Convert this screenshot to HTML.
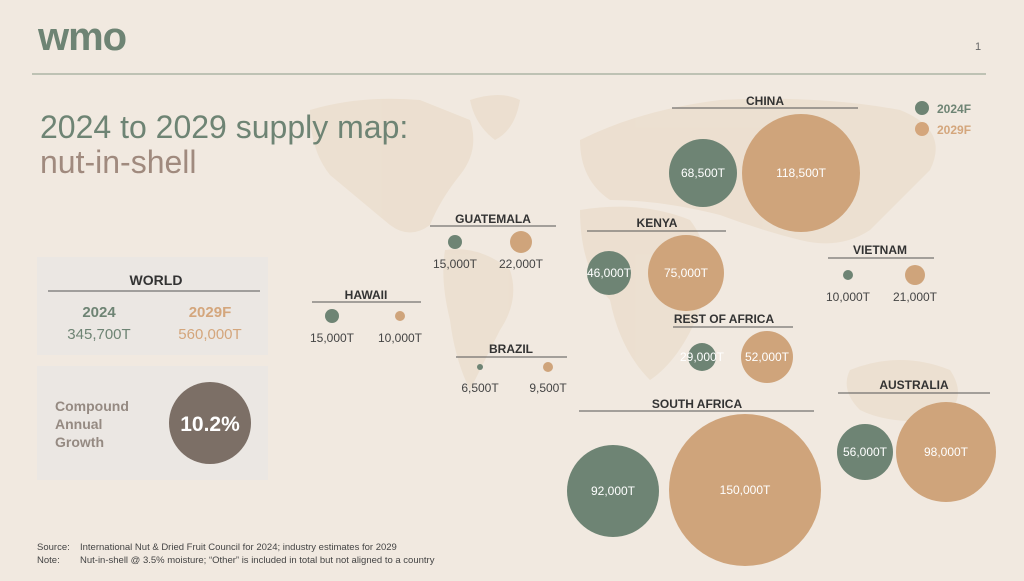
<!DOCTYPE html>
<html><head><meta charset="utf-8"><style>
body{margin:0;width:1024px;height:576px;overflow:hidden;background:#f1e9e0;font-family:"Liberation Sans",sans-serif}
</style></head><body>
<svg width="1024" height="576" xmlns="http://www.w3.org/2000/svg" font-family="Liberation Sans, sans-serif">
<rect width="1024" height="576" fill="#f1e9e0"/>
<g fill="#e9dac6" opacity="0.6">
<path d="M310 110 Q360 95 420 100 L470 120 Q480 150 460 175 Q440 200 430 225 Q410 240 390 225 Q360 200 330 175 Q310 150 310 110Z"/>
<path d="M470 100 Q500 90 520 100 Q515 130 495 140 Q475 125 470 100Z"/>
<path d="M445 250 Q480 245 510 270 Q520 300 500 330 Q480 370 470 390 Q455 360 450 320 Q440 280 445 250Z"/>
<path d="M580 140 Q640 110 720 100 Q820 95 900 110 Q950 130 930 170 Q900 200 870 230 Q840 250 800 240 Q760 230 720 215 Q660 200 610 200 Q580 180 580 140Z"/>
<path d="M580 210 Q640 200 690 220 Q720 260 700 310 Q680 360 650 380 Q620 350 610 300 Q580 270 580 210Z"/>
<path d="M850 370 Q900 350 950 370 Q970 400 940 420 Q890 425 860 410 Q840 390 850 370Z"/>
</g>
<text x="38" y="50" font-size="40" font-weight="bold" fill="#6e8474" letter-spacing="-1">wmo</text>
<text x="975" y="50" font-size="11" fill="#666">1</text>
<line x1="32" y1="74" x2="986" y2="74" stroke="#8a9a88" stroke-width="1"/>
<text x="40" y="138" font-size="32" fill="#6e8474">2024 to 2029 supply map:</text>
<text x="40" y="173" font-size="32" fill="#a08a7e">nut-in-shell</text>
<rect x="37" y="257" width="231" height="98" fill="#ebe7e3"/>
<text x="156" y="285" font-size="14" font-weight="bold" fill="#333" text-anchor="middle">WORLD</text>
<line x1="48" y1="291" x2="260" y2="291" stroke="#555" stroke-width="1"/>
<text x="99" y="317" font-size="15" font-weight="bold" fill="#6e8474" text-anchor="middle">2024</text>
<text x="99" y="339" font-size="15" fill="#6e8474" text-anchor="middle">345,700T</text>
<text x="210" y="317" font-size="15" font-weight="bold" fill="#d4a67c" text-anchor="middle">2029F</text>
<text x="210" y="339" font-size="15" fill="#d4a67c" text-anchor="middle">560,000T</text>
<rect x="37" y="366" width="231" height="114" fill="#ebe7e3"/>
<text x="55" y="411" font-size="14" font-weight="bold" fill="#958a82">Compound</text>
<text x="55" y="429" font-size="14" font-weight="bold" fill="#958a82">Annual</text>
<text x="55" y="447" font-size="14" font-weight="bold" fill="#958a82">Growth</text>
<circle cx="210" cy="423" r="41" fill="#7c6f66"/>
<text x="210" y="431" font-size="21" font-weight="bold" fill="#fff" text-anchor="middle">10.2%</text>
<circle cx="922" cy="108" r="7" fill="#6e8474"/><text x="937" y="113" font-size="12" font-weight="bold" fill="#6e8474">2024F</text>
<circle cx="922" cy="129" r="7" fill="#d4a67c"/><text x="937" y="134" font-size="12" font-weight="bold" fill="#d4a67c">2029F</text>
<g font-size="12" font-weight="bold" fill="#333" text-anchor="middle">
<text x="765" y="105">CHINA</text>
<text x="493" y="223">GUATEMALA</text>
<text x="657" y="227">KENYA</text>
<text x="880" y="254">VIETNAM</text>
<text x="366" y="299">HAWAII</text>
<text x="724" y="323">REST OF AFRICA</text>
<text x="511" y="353">BRAZIL</text>
<text x="697" y="408">SOUTH AFRICA</text>
<text x="914" y="389">AUSTRALIA</text>
</g>
<g stroke="#555" stroke-width="1">
<line x1="672" y1="108" x2="858" y2="108"/>
<line x1="430" y1="226" x2="556" y2="226"/>
<line x1="587" y1="231" x2="726" y2="231"/>
<line x1="828" y1="258" x2="934" y2="258"/>
<line x1="312" y1="302" x2="421" y2="302"/>
<line x1="673" y1="327" x2="793" y2="327"/>
<line x1="456" y1="357" x2="567" y2="357"/>
<line x1="579" y1="411" x2="814" y2="411"/>
<line x1="838" y1="393" x2="990" y2="393"/>
</g>
<g fill="#6e8474">
<circle cx="703" cy="173" r="34"/><circle cx="455" cy="242" r="7"/><circle cx="332" cy="316" r="7"/>
<circle cx="480" cy="367" r="3"/><circle cx="609" cy="273" r="22"/><circle cx="848" cy="275" r="5"/>
<circle cx="702" cy="357" r="14"/><circle cx="613" cy="491" r="46"/><circle cx="865" cy="452" r="28"/>
</g>
<g fill="#cfa47b">
<circle cx="801" cy="173" r="59"/><circle cx="521" cy="242" r="11"/><circle cx="400" cy="316" r="5"/>
<circle cx="548" cy="367" r="5"/><circle cx="686" cy="273" r="38"/><circle cx="915" cy="275" r="10"/>
<circle cx="767" cy="357" r="26"/><circle cx="745" cy="490" r="76"/><circle cx="946" cy="452" r="50"/>
</g>
<g font-size="12" fill="#fff" text-anchor="middle">
<text x="703" y="177">68,500T</text><text x="801" y="177">118,500T</text>
<text x="609" y="277">46,000T</text><text x="686" y="277">75,000T</text>
<text x="702" y="361">29,000T</text><text x="767" y="361">52,000T</text>
<text x="613" y="495">92,000T</text><text x="745" y="494">150,000T</text>
<text x="865" y="456">56,000T</text><text x="946" y="456">98,000T</text>
</g>
<g font-size="12" fill="#444" text-anchor="middle">
<text x="455" y="268">15,000T</text><text x="521" y="268">22,000T</text>
<text x="332" y="342">15,000T</text><text x="400" y="342">10,000T</text>
<text x="480" y="392">6,500T</text><text x="548" y="392">9,500T</text>
<text x="848" y="301">10,000T</text><text x="915" y="301">21,000T</text>
</g>
<g font-size="9.5" fill="#444">
<text x="37" y="550">Source:</text><text x="80" y="550">International Nut &amp; Dried Fruit Council for 2024; industry estimates for 2029</text>
<text x="37" y="563">Note:</text><text x="80" y="563">Nut-in-shell @ 3.5% moisture; “Other” is included in total but not aligned to a country</text>
</g>
</svg>
</body></html>
